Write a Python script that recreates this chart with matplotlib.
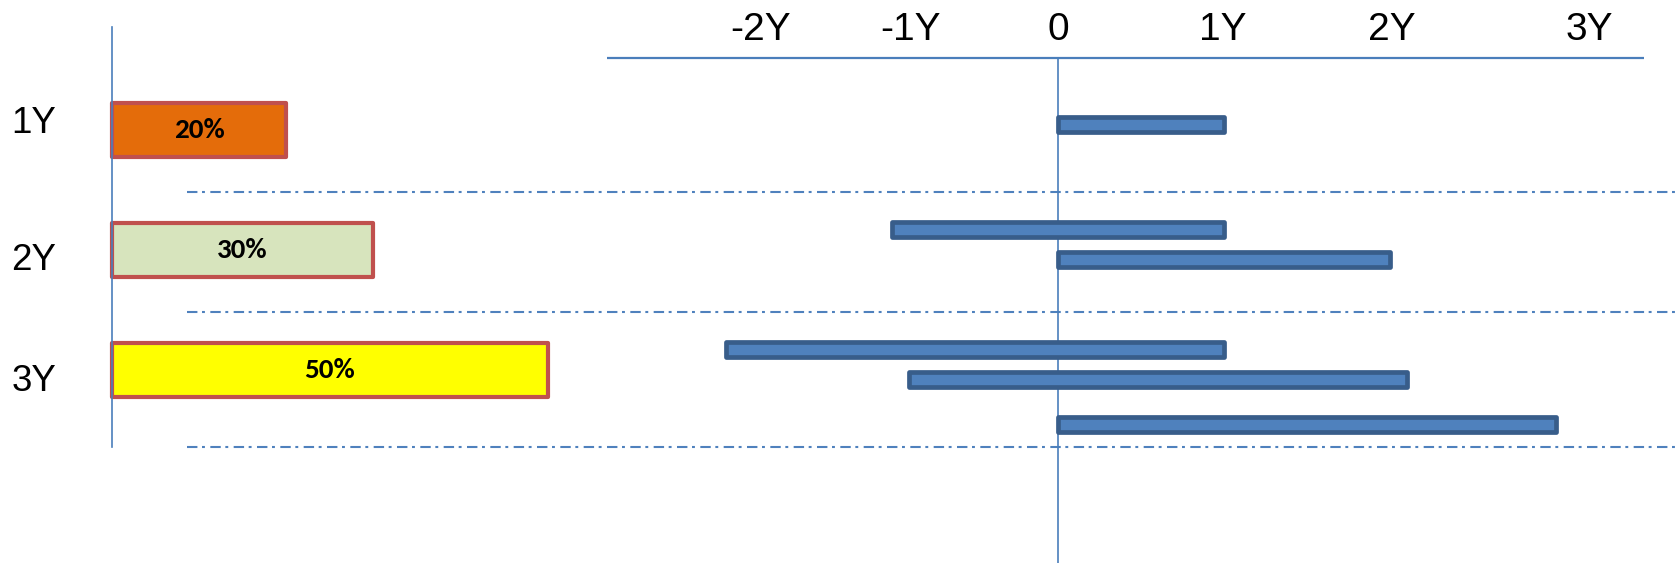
import matplotlib
matplotlib.use("Agg")
import matplotlib.pyplot as plt
from matplotlib import font_manager

# ---- data -------------------------------------------------------------
categories = ["1Y", "2Y", "3Y"]
shares = [20, 30, 50]                      # percent
share_colors = ["#e46c0a", "#d7e4bd", "#ffff00"]

# year ranges drawn on the right: category index, start year, end year
range_category = [0, 1, 1, 2, 2, 2]
range_start = [0, -1, 0, -2, -0.9, 0]
range_end = [1, 1, 2, 1, 2.1, 3]

tick_labels = ["-2Y", "-1Y", "0", "1Y", "2Y", "3Y"]

# ---- layout -----------------------------------------------------------
W, H, DPI = 1677, 563, 100
ROW_PX = 120.0          # pixels per category row
ROW0_PX = 130.0         # pixel row of the first category centre


def py(p):
    """pixel row -> row units"""
    return (p - ROW0_PX) / ROW_PX


YLIM = (py(H), py(0))
lane_offset = [-0.042, -0.167, 0.083, -0.167, 0.083, 0.458]
label_offset = [-0.057, 0.088, 0.093]
tick_pos = [-1.79, -0.89, 0, 0.99, 2.01, 3.2]
separator_rows = [py(192.5), py(312), py(447)]

AXIS_BLUE = "#4a7ebb"
LINE_BLUE = "#4f81bd"


def pick(*names):
    have = {f.name for f in font_manager.fontManager.ttflist}
    return [n for n in names if n in have] + ["DejaVu Sans"]


label_font = pick("Liberation Sans", "Arial")
tick_font = pick("Liberation Sans Narrow", "Arial Narrow", "Liberation Sans")
bar_font = pick("Carlito", "Calibri", "Lato", "Open Sans")

fig = plt.figure(figsize=(W / DPI, H / DPI), dpi=DPI)
fig.patch.set_facecolor("white")

# background axes for the dash-dot separators
bg = fig.add_axes([0, 0, 1, 1])
bg.set_xlim(0, 1)
bg.set_ylim(*YLIM)
bg.axis("off")
for r in separator_rows:
    bg.axhline(r, xmin=187 / W, xmax=1, color=LINE_BLUE, lw=1.5,
               linestyle=(0, (5.0, 2.2, 1.4, 2.6)))

# ---- left panel: share bars ------------------------------------------
scale = 8.71  # px per percent
lx0 = 112
axl = fig.add_axes([0, 0, 600 / W, 1])
axl.set_facecolor("none")
axl.set_xlim(-lx0 / scale, (600 - lx0) / scale)
axl.set_ylim(*YLIM)
axl.axis("off")

rows = list(range(len(categories)))
axl.barh(rows, shares, height=0.45, left=0, color=share_colors,
         edgecolor="#c0504d", linewidth=3.0, joinstyle="round", zorder=3)
axl.plot([0, 0], [py(27), py(447)], color=AXIS_BLUE, lw=1.2, zorder=4)
for r, v, name, off in zip(rows, shares, categories, label_offset):
    axl.text(v / 2, r, f"{v}%", ha="center", va="center",
             fontsize=21, fontweight="bold", family=bar_font, zorder=5)
    axl.text((34 - lx0) / scale, r + off, name, ha="center", va="center",
             fontsize=26.5, family=label_font, color="black")

# ---- right panel: year ranges ----------------------------------------
unit = 166.0  # px per year
zx = 1058
axr = fig.add_axes([607 / W, 0, (W - 607) / W, 1])
axr.set_facecolor("none")
axr.set_xlim(-(zx - 607) / unit, (W - zx) / unit)
axr.set_ylim(*YLIM)
axr.axis("off")

top = py(58)
axr.plot([-(zx - 607) / unit, (1644 - zx) / unit], [top, top],
         color=AXIS_BLUE, lw=1.6, solid_capstyle="butt")
axr.plot([0, 0], [top, YLIM[0]], color=AXIS_BLUE, lw=1.2)

lanes = [c + o for c, o in zip(range_category, lane_offset)]
widths = [e - s for s, e in zip(range_start, range_end)]
axr.barh(lanes, widths, left=range_start, height=0.125, color="#4f81bd",
         edgecolor="#385d8a", linewidth=3.4, joinstyle="round", zorder=3)

for x, t in zip(tick_pos, tick_labels):
    axr.text(x, py(30), t, ha="center", va="center", fontsize=28,
             family=tick_font, color="black")

fig.savefig("out.png", dpi=DPI, facecolor="white")
